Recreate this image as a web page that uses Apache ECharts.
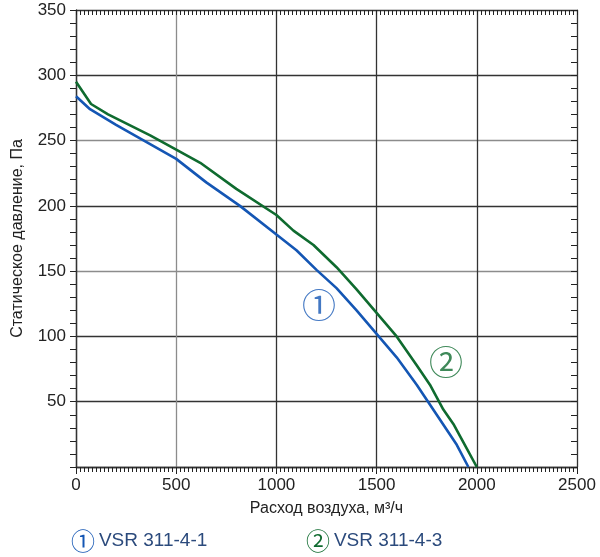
<!DOCTYPE html>
<html><head><meta charset="utf-8">
<script src="https://cdn.jsdelivr.net/npm/echarts@6/dist/echarts.min.js"></script>
<style>html,body{margin:0;padding:0;background:#fff}#c{width:600px;height:557px}</style>
</head><body><div id="c"></div>
<script>
// Data (m3/h, Pa)
const seriesNames = ['VSR 311-4-1', 'VSR 311-4-3'];
const curveMarks = ['①', '②'];
const flow1 = [0, 70, 200, 350, 500, 650, 818, 1000, 1100, 1200, 1300, 1400, 1500, 1600, 1700, 1800, 1900, 1958];
const pres1 = [284, 274, 262, 249, 236, 218, 200, 178, 166, 151, 137, 120, 102, 84, 63, 40, 17, 0];
const flow2 = [0, 75, 160, 370, 500, 620, 800, 1000, 1085, 1185, 1300, 1400, 1500, 1600, 1700, 1766, 1833, 1883, 1940, 2000];
const pres2 = [295, 278, 270, 254, 243, 233, 213, 193, 181, 170, 153, 136, 118, 100, 78, 63, 44, 33, 17, 0];
const markPos1 = [1213, 124];
const markPos2 = [1846, 80];
const xTicks = [0, 500, 1000, 1500, 2000, 2500];
const yTicks = [0, 50, 100, 150, 200, 250, 300, 350];

const BLUE = '#1456b4', GREEN = '#0f6b2f', DARK = '#333333', GRAY = '#8c8c8c';
const FONT = "'Liberation Sans', Arial, sans-serif";
const CJK = "'Noto Sans CJK JP', 'DejaVu Sans', sans-serif";

const zip = (a, b) => a.map((v, i) => [v, b[i]]);
const chart = echarts.init(document.getElementById('c'));
chart.setOption({
  animation: false,
  backgroundColor: '#fff',
  grid: {left: 76, right: 23, top: 10, bottom: 90},
  xAxis: [
    { type: 'value', position: 'bottom', min: xTicks[0], max: xTicks[xTicks.length - 1], interval: 500,
      axisLine: {show: true, onZero: false, lineStyle: {color: DARK, width: 1.3}},
      axisTick: {show: true, length: 7, lineStyle: {color: '#222'}},
      axisLabel: {fontSize: 17, color: '#222', fontFamily: FONT, margin: 10, formatter: v => String(v)},
      splitLine: {show: true, lineStyle: {color: [DARK, GRAY, DARK, DARK, DARK, DARK], width: 1.3}},
      name: 'Расход воздуха, м³/ч', nameLocation: 'middle', nameGap: 34,
      nameTextStyle: {fontSize: 16, color: '#222', fontFamily: FONT}
    },
    { type: 'value', position: 'bottom', min: 0, max: 2500, interval: 20,
      axisLine: {show: false, onZero: false}, axisTick: {show: true, length: 5, lineStyle: {color: '#222'}},
      axisLabel: {show: false}, splitLine: {show: false}
    },
    { type: 'value', position: 'top', min: 0, max: 2500, interval: 20,
      axisLine: {show: true, onZero: false, lineStyle: {color: DARK}},
      axisTick: {show: true, inside: true, length: 5, lineStyle: {color: '#222'}},
      axisLabel: {show: false}, splitLine: {show: false}
    }
  ],
  yAxis: [
    { type: 'value', position: 'left', min: yTicks[0], max: yTicks[yTicks.length - 1], interval: 50,
      axisLine: {show: true, onZero: false, lineStyle: {color: DARK, width: 1.3}},
      axisTick: {show: true, length: 6, lineStyle: {color: '#222'}},
      minorTick: {show: true, splitNumber: 5, length: 6, lineStyle: {color: '#222'}},
      axisLabel: {fontSize: 17, color: '#222', fontFamily: FONT, margin: 10,
        formatter: v => v === 0 ? '' : String(v)},
      splitLine: {show: true, lineStyle: {color: [DARK, DARK, DARK, GRAY, DARK, GRAY, DARK, DARK], width: 1.3}},
      name: 'Статическое давление, Па', nameLocation: 'middle', nameGap: 50,
      nameTextStyle: {fontSize: 16, color: '#222', fontFamily: FONT}
    },
    { type: 'value', position: 'right', min: 0, max: 350, interval: 10,
      axisLine: {show: true, onZero: false, lineStyle: {color: DARK}},
      axisTick: {show: true, inside: true, length: 6, lineStyle: {color: '#222'}},
      axisLabel: {show: false}, splitLine: {show: false}
    }
  ],
  series: [
    { name: seriesNames[0], type: 'line', data: zip(flow1, pres1), showSymbol: false, symbol: 'none',
      lineStyle: {color: BLUE, width: 2.6}, itemStyle: {color: BLUE}, z: 5 },
    { name: seriesNames[1], type: 'line', data: zip(flow2, pres2), showSymbol: false, symbol: 'none',
      lineStyle: {color: GREEN, width: 2.6}, itemStyle: {color: GREEN}, z: 4 },
    { type: 'scatter', symbolSize: 0, silent: true, z: 6,
      data: [
        {value: markPos1, label: {show: true, position: 'inside', formatter: curveMarks[0], color: BLUE, fontSize: 34, fontFamily: CJK}},
        {value: markPos2, label: {show: true, position: 'inside', formatter: curveMarks[1], color: GREEN, fontSize: 34, fontFamily: CJK}}
      ]
    }
  ],
  graphic: [
    { type: 'text', left: 71, top: 529, style: {
      text: '{c|' + curveMarks[0] + '}{s| }{t|' + seriesNames[0] + '}',
      rich: {c: {fill: BLUE, fontSize: 24, fontFamily: CJK}, s: {fontSize: 14}, t: {fill: '#2b4a7c', fontSize: 19, fontFamily: FONT}}}},
    { type: 'text', left: 306, top: 529, style: {
      text: '{c|' + curveMarks[1] + '}{s| }{t|' + seriesNames[1] + '}',
      rich: {c: {fill: GREEN, fontSize: 24, fontFamily: CJK}, s: {fontSize: 14}, t: {fill: '#2b4a7c', fontSize: 19, fontFamily: FONT}}}}
  ]
});
</script></body></html>
